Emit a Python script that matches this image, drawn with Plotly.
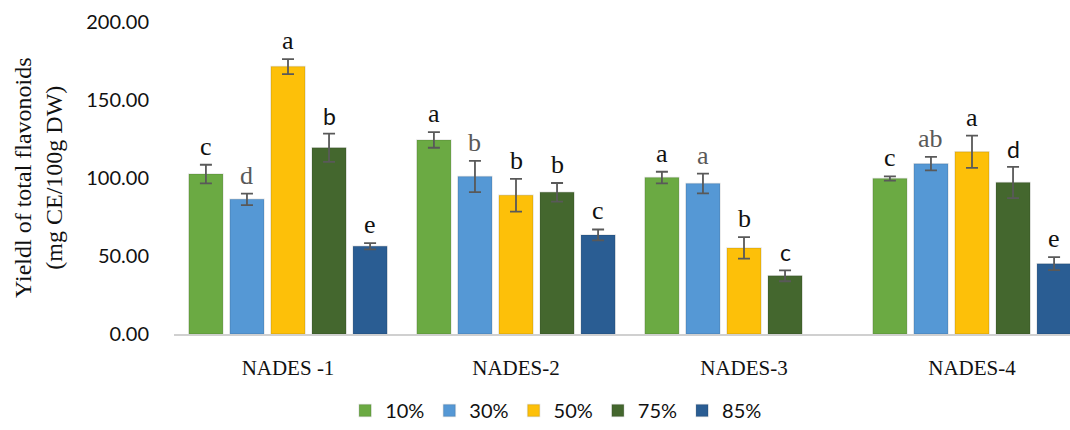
import plotly.graph_objects as go

# Categories and series
groups = ["NADES -1", "NADES-2", "NADES-3", "NADES-4"]
series = ["10%", "30%", "50%", "75%", "85%"]
colors = ["#6BAA43", "#5598D5", "#FDC009", "#44672E", "#2A5D93"]

# Mean yield per series across the four NADES (None = not measured)
y_10 = [102.5, 124.4, 100.3, 99.7]
y_30 = [86.3, 101.0, 96.5, 109.2]
y_50 = [171.4, 88.9, 55.2, 116.8]
y_75 = [119.4, 90.8, 37.3, 97.1]
y_85 = [56.3, 63.5, None, 45.1]

# Standard deviations
e_10 = [6.0, 5.0, 3.7, 1.4]
e_30 = [3.7, 10.0, 6.3, 4.3]
e_50 = [4.8, 10.5, 6.9, 10.3]
e_75 = [9.0, 6.0, 3.5, 10.0]
e_85 = [2.0, 3.5, None, 4.2]

# Significance letters
l_10 = ["c", "a", "a", "c"]
l_30 = ["d", "b", "a", "ab"]
l_50 = ["a", "b", "b", "a"]
l_75 = ["b", "b", "c", "d"]
l_85 = ["e", "c", None, "e"]

values = [y_10, y_30, y_50, y_75, y_85]
errors = [e_10, e_30, e_50, e_75, e_85]
letters = [l_10, l_30, l_50, l_75, l_85]

SERIF = "Liberation Serif"
SANS = "Lato"
BARGAP = 0.1
GROUPGAP = 0.17

fig = go.Figure()
x = list(range(len(groups)))
for s, (name, col, vals, errs) in enumerate(zip(series, colors, values, errors)):
    fig.add_trace(go.Bar(
        x=x, y=vals, name=name,
        marker=dict(color=col, line=dict(color="rgba(0,0,0,0.10)", width=1.5)),
        error_y=dict(type="data", array=[e if e is not None else 0 for e in errs],
                     visible=True, color="#595959", thickness=1.8, width=6),
    ))

# Letters above the error bars
slot = (1 - BARGAP) / len(series)
for s, (vals, errs, labs) in enumerate(zip(values, errors, letters)):
    for g in range(len(groups)):
        if labs[g] is None:
            continue
        sans = (s == 3 and g != 1)
        fig.add_annotation(
            x=g + (s - (len(series) - 1) / 2) * slot,
            y=vals[g] + errs[g],
            text=labs[g], showarrow=False,
            xanchor="center", yanchor="bottom", yshift=2,
            font=dict(family=SANS if sans else SERIF,
                      size=23 if sans else 26,
                      color="#595959" if s == 1 else "#111111"),
        )

# Y-axis title
fig.add_annotation(
    xref="paper", yref="paper", x=0, y=0.5, xshift=-136,
    text="Yieldl of total flavonoids<br>(mg CE/100g DW)",
    textangle=-90, showarrow=False, xanchor="center", yanchor="middle",
    font=dict(family=SERIF, size=24, color="#111111"),
)

fig.update_layout(
    width=1070, height=430,
    margin=dict(l=174, r=0, t=22, b=93),
    paper_bgcolor="white", plot_bgcolor="white",
    barmode="group", bargap=BARGAP, bargroupgap=GROUPGAP,
    legend=dict(orientation="h", x=0.191, xanchor="left", y=-0.245, yanchor="middle",
                font=dict(family=SANS, size=20, color="#111111"),
                itemwidth=30, traceorder="normal"),
    xaxis=dict(
        tickmode="array", tickvals=x, ticktext=groups,
        range=[-0.5, -0.5 + 896 / 228],
        showline=True, linecolor="#D0D0D0", linewidth=2,
        showgrid=False, zeroline=False, ticks="",
        tickfont=dict(family=SERIF, size=21, color="#111111"),
        ticklabelstandoff=14,
    ),
    yaxis=dict(
        range=[0, 200], tickmode="array",
        tickvals=[0, 50, 100, 150, 200],
        ticktext=["0.00", "50.00", "100.00", "150.00", "200.00"],
        showgrid=False, zeroline=False, showline=False, ticks="",
        tickfont=dict(family=SANS, size=20, color="#111111"),
        ticklabelstandoff=24,
    ),
)

fig.write_html("out.html")
